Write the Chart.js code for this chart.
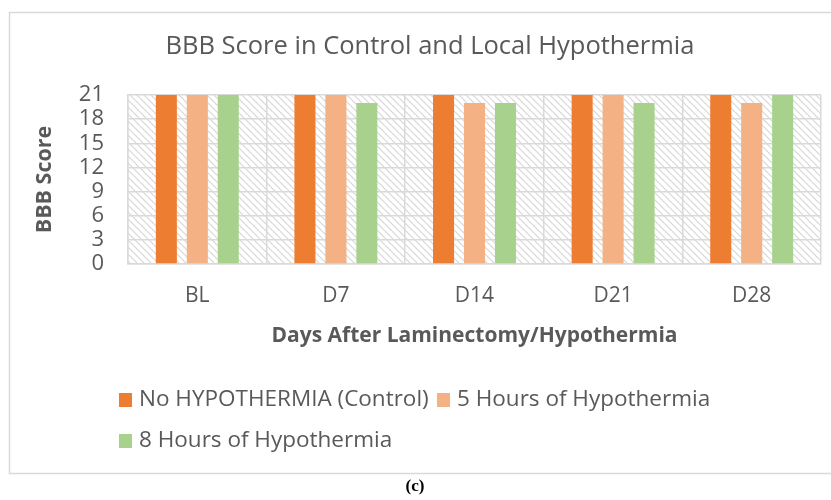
<!DOCTYPE html>
<html><head><meta charset="utf-8">
<script src="https://cdn.jsdelivr.net/npm/chart.js@4"></script>
<style>html,body{margin:0;padding:0;background:#fff}#wrap{width:831px;height:500px;position:relative}</style>
</head><body><div id="wrap"><canvas id="c" width="831" height="500"></canvas></div>
<script>
const categories = ['BL', 'D7', 'D14', 'D21', 'D28'];
const seriesNames = ['No HYPOTHERMIA (Control)', '5 Hours of Hypothermia', '8 Hours of Hypothermia'];
const controlValues = [21, 21, 21, 21, 21];
const fiveHourValues = [21, 21, 20, 21, 20];
const eightHourValues = [21, 20, 20, 20, 21];
const yTickValues = [0, 3, 6, 9, 12, 15, 18, 21];
const seriesColors = ['#ED7D31', '#F4B183', '#A9D18E'];

const FONT = '"Open Sans", "Liberation Sans", sans-serif';
const TXT = '#595959';
const GRID = '#d9d9d9';

function makePattern() {
  const n = 7;
  const p = document.createElement('canvas');
  p.width = n; p.height = n;
  const g = p.getContext('2d');
  g.fillStyle = '#ffffff'; g.fillRect(0, 0, n, n);
  g.strokeStyle = '#d6d6d6'; g.lineWidth = 1.2;
  for (const o of [-n, 0, n]) {
    g.beginPath(); g.moveTo(o, 0); g.lineTo(o + n, n); g.stroke();
  }
  return p;
}

const decor = {
  id: 'decor',
  beforeDraw(chart) {
    const ctx = chart.ctx, a = chart.chartArea;
    ctx.save();
    ctx.fillStyle = '#fff'; ctx.fillRect(0, 0, chart.width, chart.height);
    ctx.strokeStyle = GRID; ctx.lineWidth = 1.5;
    ctx.strokeRect(9.5, 12.5, 840, 461);
    ctx.fillStyle = ctx.createPattern(makePattern(), 'repeat');
    ctx.fillRect(a.left, a.top, a.right - a.left, a.bottom - a.top);
    ctx.restore();
  },
  afterDraw(chart) {
    const ctx = chart.ctx;
    ctx.save();
    ctx.fillStyle = TXT;
    ctx.textBaseline = 'middle';
    ctx.textAlign = 'center';
    ctx.font = '25.5px ' + FONT;
    ctx.fillText('BBB Score in Control and Local Hypothermia', 430, 47);
    // legend
    ctx.textAlign = 'left';
    ctx.font = '22.5px ' + FONT;
    const pos = [[119, 400], [437, 400], [119, 441]];
    chart.data.datasets.forEach((ds, i) => {
      const [x, y] = pos[i];
      ctx.fillStyle = ds.backgroundColor;
      ctx.fillRect(x, y - 7, 13, 14);
      ctx.fillStyle = TXT;
      ctx.fillText(ds.label, x + 20, y);
    });
    ctx.fillStyle = '#000';
    ctx.textAlign = 'center';
    ctx.font = 'bold 17px "Liberation Serif", serif';
    ctx.fillText('(c)', 415, 487);
    ctx.restore();
  }
};

new Chart(document.getElementById('c'), {
  type: 'bar',
  data: {
    labels: categories,
    datasets: [
      { label: seriesNames[0], data: controlValues, backgroundColor: seriesColors[0] },
      { label: seriesNames[1], data: fiveHourValues, backgroundColor: seriesColors[1] },
      { label: seriesNames[2], data: eightHourValues, backgroundColor: seriesColors[2] }
    ]
  },
  options: {
    responsive: false,
    animation: false,
    devicePixelRatio: 1,
    categoryPercentage: 0.67,
    barPercentage: 0.68,
    layout: { padding: { left: 14, right: 10, top: 95, bottom: 146 } },
    plugins: { legend: { display: false }, title: { display: false }, tooltip: { enabled: false } },
    scales: {
      x: {
        grid: { color: GRID, lineWidth: 1.5, drawTicks: false },
        border: { color: GRID, width: 1.5 },
        ticks: { color: TXT, font: { family: FONT, size: 21 }, padding: 19 },
        title: { display: true, text: 'Days After Laminectomy/Hypothermia', color: TXT,
                 font: { family: FONT, size: 21, weight: 'bold' }, padding: { top: 0, bottom: 5 } },
        afterFit(s) { s.height = 90; }
      },
      y: {
        min: 0, max: 21,
        grid: { color: GRID, lineWidth: 1.5, drawTicks: false },
        border: { color: GRID, width: 1.5 },
        afterBuildTicks(s) { s.ticks = yTickValues.map(v => ({ value: v })); },
        ticks: { color: TXT, font: { family: FONT, size: 22 }, padding: 24, autoSkip: false },
        title: { display: true, text: 'BBB Score', color: TXT,
                 font: { family: FONT, size: 21.5, weight: 'bold' }, padding: { top: 18, bottom: 0 } },
        afterFit(s) { s.width = 114; }
      }
    }
  },
  plugins: [decor]
});
</script></body></html>
